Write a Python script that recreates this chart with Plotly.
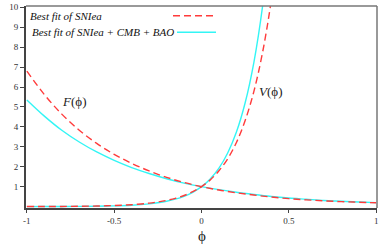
import plotly.graph_objects as go

# ---- data ----
phi_F = [-1.0, -0.9, -0.8, -0.7, -0.6, -0.5, -0.4, -0.3, -0.2, -0.1, 0.0,
         0.1, 0.2, 0.3, 0.4, 0.5, 0.6, 0.7, 0.8, 0.9, 1.0]
F_sn = [6.80, 5.62, 4.64, 3.83, 3.17, 2.62, 2.17, 1.79, 1.47, 1.21, 1.00,
        0.83, 0.69, 0.58, 0.48, 0.40, 0.34, 0.29, 0.25, 0.22, 0.19]
F_all = [5.35, 4.54, 3.83, 3.24, 2.74, 2.32, 1.96, 1.66, 1.40, 1.18, 1.00,
         0.85, 0.72, 0.61, 0.51, 0.43, 0.37, 0.31, 0.27, 0.23, 0.20]

phi_V = [-1.0, -0.9, -0.8, -0.7, -0.6, -0.5, -0.4, -0.3, -0.25, -0.2, -0.15,
         -0.1, -0.05, 0.0, 0.05, 0.1, 0.15, 0.2, 0.25, 0.3, 0.35, 0.4, 0.45]
V_sn = [0.003, 0.005, 0.009, 0.017, 0.030, 0.054, 0.096, 0.173, 0.232, 0.310, 0.416,
        0.557, 0.746, 1.00, 1.34, 1.80, 2.40, 3.22, 4.32, 5.78, 7.75, 10.38, 13.9]
V_all = [0.001, 0.003, 0.005, 0.010, 0.019, 0.037, 0.071, 0.138, 0.192, 0.267, 0.372,
         0.517, 0.719, 1.00, 1.39, 1.93, 2.69, 3.74, 5.21, 7.24, 10.07, 14.0, 19.5]

x_ticks = [-1, -0.5, 0, 0.5, 1]
x_ticklabels = ["-1", "-0.5", "0", "0.5", "1"]
y_ticks = [1, 2, 3, 4, 5, 6, 7, 8, 9, 10]

legend_names = ["Best fit of SNIea", "Best fit of SNIea + CMB + BAO"]

RED = "#ff3b3b"
CYAN = "#33f5f5"
FONT = "Liberation Serif"
PHI = "\u03d5"

fig = go.Figure()
fig.add_trace(go.Scatter(x=phi_F, y=F_all, mode="lines", line=dict(color=CYAN, width=1.4, shape="spline"),
                         showlegend=False))
fig.add_trace(go.Scatter(x=phi_V, y=V_all, mode="lines", line=dict(color=CYAN, width=1.4, shape="spline"),
                         showlegend=False))
fig.add_trace(go.Scatter(x=phi_F, y=F_sn, mode="lines",
                         line=dict(color=RED, width=1.4, dash="7px,4px", shape="spline"), showlegend=False))
fig.add_trace(go.Scatter(x=phi_V, y=V_sn, mode="lines",
                         line=dict(color=RED, width=1.4, dash="7px,4px", shape="spline"), showlegend=False))

W, H = 382, 247
ml, mr, mt, mb = 26, 5, 6, 39
pw, ph = W - ml - mr, H - mt - mb

def px(xp):
    return (xp - ml) / pw

def py(yp):
    return 1 - (yp - mt) / ph

annotations = [
    dict(x=px(28), y=py(15.5), xref="paper", yref="paper", xanchor="left", yanchor="middle",
         text="<i>" + legend_names[0] + "</i>", showarrow=False,
         font=dict(family=FONT, size=11, color="#111")),
    dict(x=px(30), y=py(31.5), xref="paper", yref="paper", xanchor="left", yanchor="middle",
         text="<i>" + legend_names[1] + "</i>", showarrow=False,
         font=dict(family=FONT, size=11, color="#111")),
    dict(x=-0.73, y=5.25, xref="x", yref="y", xanchor="center", yanchor="middle",
         text="<i>F</i>(" + PHI + ")", showarrow=False, font=dict(family=FONT, size=13, color="#222")),
    dict(x=0.395, y=5.8, xref="x", yref="y", xanchor="center", yanchor="middle",
         text="<i>V</i>(" + PHI + ")", showarrow=False, font=dict(family=FONT, size=13, color="#222")),
    dict(x=0.0, y=py(236), xref="x", yref="paper", xanchor="center", yanchor="middle",
         text=PHI, showarrow=False, font=dict(family=FONT, size=15, color="#222")),
]

shapes = [
    dict(type="line", xref="paper", yref="paper", x0=px(173), x1=px(213), y0=py(15.7), y1=py(15.7),
         line=dict(color=RED, width=1.4, dash="7px,4px")),
    dict(type="line", xref="paper", yref="paper", x0=px(177), x1=px(216), y0=py(32.3), y1=py(32.3),
         line=dict(color=CYAN, width=1.4)),
    dict(type="line", xref="paper", yref="paper", x0=0, x1=1, y0=1, y1=1,
         line=dict(color="#777", width=1.5)),
    dict(type="line", xref="paper", yref="paper", x0=1, x1=1, y0=0, y1=1,
         line=dict(color="#777", width=1.5)),
]

fig.update_layout(
    width=W, height=H,
    margin=dict(l=ml, r=mr, t=mt, b=mb),
    paper_bgcolor="white", plot_bgcolor="white",
    annotations=annotations, shapes=shapes,
    xaxis=dict(range=[-1.005, 1.005], tickvals=x_ticks, ticktext=x_ticklabels, automargin=False,
               showgrid=False, zeroline=False, showline=True, linecolor="#444", linewidth=2,
               ticks="outside", ticklen=3, tickcolor="#444", tickwidth=1,
               tickfont=dict(family=FONT, size=9, color="#333")),
    yaxis=dict(range=[-0.07, 10.065], tickvals=y_ticks, automargin=False,
               showgrid=False, zeroline=False, showline=True, linecolor="#444", linewidth=2,
               ticks="outside", ticklen=4, tickcolor="#444", tickwidth=1,
               tickfont=dict(family=FONT, size=9, color="#333")),
)

fig.write_html("out.html", config={"displayModeBar": False},
               post_script="document.body.style.margin='0';document.body.style.overflow='hidden';")
